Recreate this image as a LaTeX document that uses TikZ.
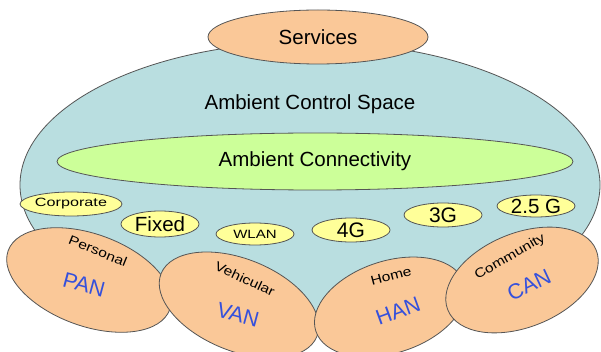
\documentclass[tikz,border=0pt]{standalone}
\usepackage{fontspec}
\usepackage{graphicx}
\setmainfont{Liberation Sans}
\usetikzlibrary{shapes.geometric}

\definecolor{peach}{HTML}{FAC898}
\definecolor{spacebl}{HTML}{B9DEE0}
\definecolor{conngreen}{HTML}{CCFF99}
\definecolor{netyellow}{HTML}{FFFF99}
\definecolor{edgegray}{HTML}{555555}
\definecolor{acblue}{HTML}{3550DC}

\newcommand\pxfont[1]{\fontsize{#1}{#1}\selectfont}
\newcommand\widetext[2][1.2]{\scalebox{#1}[1]{#2}}

\begin{document}
\begin{tikzpicture}[x=1pt,y=-1pt,
  oval/.style={ellipse, draw=edgegray, line width=0.8pt, inner sep=0pt},
  netbox/.style={oval, fill=netyellow, minimum width=78, minimum height=24},
  areabox/.style={oval, fill=peach},
  smalllbl/.style={font=\pxfont{13}, inner sep=0pt},
  netlbl/.style={font=\pxfont{21.5}, text=acblue, inner sep=0pt}
]
\fill[white] (0,0) rectangle (601,352);
\useasboundingbox (0,0) rectangle (601,352);

% control space and services
\node[oval, fill=spacebl, minimum width=580, minimum height=286] (space) at (310,185) {};
\node[oval, fill=peach, minimum width=220, minimum height=54, font=\pxfont{20.5}] (services) at (318,37) {Services};
\node[font=\pxfont{20.5}] (acs) at (310,104) {Ambient Control Space};

% connectivity layer
\node[oval, fill=conngreen, minimum width=516, minimum height=57, font=\pxfont{20.5}] (conn) at (315,161.5) {Ambient Connectivity};

% access networks
\node[netbox, font=\pxfont{12}] (corp) at (71,204) {\widetext[1.35]{Corporate}};
\node[netbox, minimum height=26, font=\pxfont{20.5}] (fixed) at (160,224) {Fixed};
\node[netbox, minimum height=22, font=\pxfont{12}] (wlan) at (255,234) {\widetext[1.25]{WLAN}};
\node[netbox, font=\pxfont{21}] (g4) at (351,230) {4G};
\node[netbox, font=\pxfont{21}] (g3) at (443,215) {3G};
\node[netbox, minimum height=22, font=\pxfont{20.5}] (g25) at (536,206) {2.5 G};

% area networks
\node[areabox, rotate=-20, minimum width=172, minimum height=92] (pan) at (89,280) {};
\node[smalllbl, rotate=-22] (panname) at (98,251) {\widetext{Personal}};
\node[netlbl, rotate=-15] (panlbl) at (84,285) {PAN};

\node[areabox, rotate=-22, minimum width=168, minimum height=92] (van) at (239,305) {};
\node[smalllbl, rotate=-25] (vanname) at (245,279) {\widetext{Vehicular}};
\node[netlbl, rotate=-15] (vanlbl) at (238,315) {VAN};

\node[areabox, rotate=18, minimum width=156, minimum height=92] (han) at (390,307) {};
\node[smalllbl, rotate=15] (hanname) at (391,276) {\widetext{Home}};
\node[netlbl, rotate=20] (hanlbl) at (398,311) {HAN};

\node[areabox, rotate=22, minimum width=160, minimum height=94] (can) at (522,280) {};
\node[smalllbl, rotate=30] (canname) at (510,257) {\widetext{Community}};
\node[netlbl, rotate=25] (canlbl) at (529,285) {CAN};
\end{tikzpicture}
\end{document}
